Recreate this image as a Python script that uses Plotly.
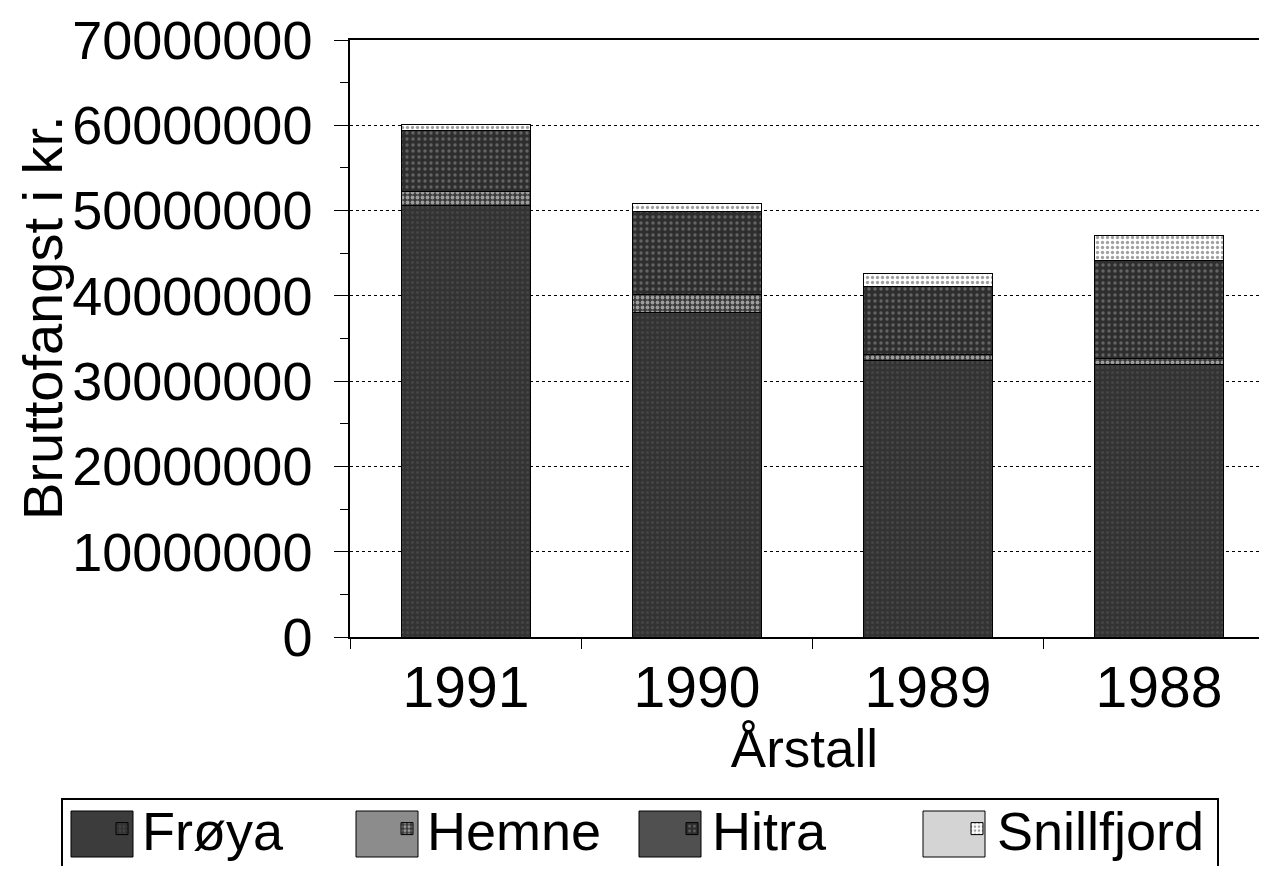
import plotly.graph_objects as go

years = ["1991", "1990", "1989", "1988"]
froya = [50.6e6, 38.0e6, 32.4e6, 31.9e6]
hemne = [1.6e6, 2.2e6, 0.7e6, 0.8e6]
hitra = [7.2e6, 9.7e6, 8.0e6, 11.5e6]
snillfjord = [0.7e6, 0.9e6, 1.5e6, 2.9e6]

FONT = "Liberation Sans, Arial, sans-serif"

# The page body has an 8px margin, so the figure is sized to fit inside it.
OFF = 8
W, H = 1267 - 2 * OFF, 874 - 2 * OFF
# plot area in page pixels
L, T, B = 350, 40, 637
R = OFF + W
PW, PH = R - L, B - T
def px(x):
    return (x - L) / PW
def py(y):
    return (B - y) / PH

styles = {
    "Frøya": dict(color="#3a3a3a", pattern=dict(shape=".", fgcolor="#555555", bgcolor="#333333", size=5, solidity=0.3)),
    "Hemne": dict(color="#777777", pattern=dict(shape=".", fgcolor="#ffffff", bgcolor="#3a3a3a", size=5, solidity=0.45)),
    "Hitra": dict(color="#404040", pattern=dict(shape=".", fgcolor="#9a9a9a", bgcolor="#2e2e2e", size=6, solidity=0.25)),
    "Snillfjord": dict(color="#dddddd", pattern=dict(shape=".", fgcolor="#444444", bgcolor="#ffffff", size=5, solidity=0.35)),
}
series = [("Frøya", froya), ("Hemne", hemne), ("Hitra", hitra), ("Snillfjord", snillfjord)]

fig = go.Figure()
for name, vals in series:
    st = styles[name]
    fig.add_trace(go.Bar(name=name, x=years, y=vals,
                         marker=dict(color=st["color"], line=dict(color="black", width=1),
                                     pattern=st["pattern"])))

# legend frame and large swatches
shapes = [dict(type="rect", xref="paper", yref="paper", x0=px(62), x1=px(1218),
               y0=py(799), y1=py(905), line=dict(color="black", width=2),
               fillcolor="white", layer="below")]
swatch_fill = {"Frøya": "#3c3c3c", "Hemne": "#8c8c8c", "Hitra": "#505050", "Snillfjord": "#d4d4d4"}
text_x = {"Frøya": 145, "Hemne": 430, "Hitra": 713, "Snillfjord": 997}
for name, tx in text_x.items():
    shapes.append(dict(type="rect", xref="paper", yref="paper", x0=px(tx - 74), x1=px(tx - 12),
                       y0=py(857), y1=py(811), line=dict(color="black", width=1),
                       fillcolor=swatch_fill[name], layer="above"))

fig.update_layout(
    barmode="stack",
    bargap=0.44,
    width=W, height=H,
    margin=dict(l=L - OFF, r=0, t=T - OFF, b=H - (B - OFF), autoexpand=False),
    paper_bgcolor="white", plot_bgcolor="white",
    font=dict(family=FONT, color="black", size=54),
    legend=dict(orientation="h", yanchor="top", y=py(787), xanchor="left", x=px(102),
                font=dict(size=54), borderwidth=0, bgcolor="rgba(0,0,0,0)",
                traceorder="normal", entrywidth=240, entrywidthmode="pixels"),
    shapes=shapes,
    annotations=[dict(text="Bruttofangst i kr.", xref="paper", yref="paper",
                      x=px(42), y=py(318), xanchor="center", yanchor="middle",
                      textangle=-90, showarrow=False, font=dict(size=56))],
)
fig.update_xaxes(
    automargin=False,
    range=[-0.502, -0.502 + PW / 231.0], showline=True, linecolor="black", linewidth=1.5, mirror=True,
    ticks="outside", ticklen=10, tickcolor="black", tickson="boundaries",
    tickfont=dict(size=57), showgrid=False,
    title=dict(text="Årstall", font=dict(size=53), standoff=4),
)
fig.update_yaxes(
    automargin=False,
    range=[0, 70e6], dtick=10e6, tickformat="d", showline=True, linecolor="black", linewidth=1.5,
    ticks="outside", ticklen=14, tickcolor="black", tickfont=dict(size=54),
    ticklabelstandoff=11,
    minor=dict(ticks="outside", dtick=5e6, ticklen=8, tickcolor="black", showgrid=False),
    showgrid=True, gridcolor="black", griddash="dot", gridwidth=1,
    zeroline=False,
)

fig.write_html("out.html")
